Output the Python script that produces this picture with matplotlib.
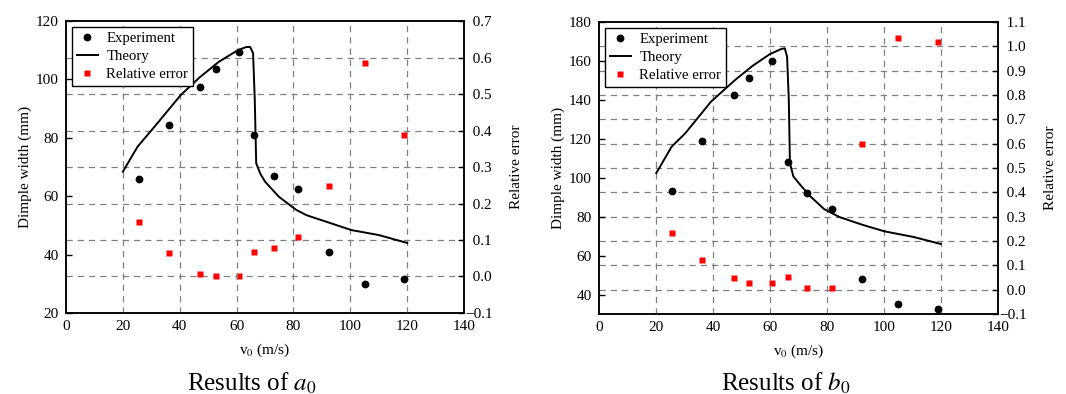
import numpy as np
import matplotlib.pyplot as plt

plt.rcParams['font.family'] = ['Liberation Serif', 'DejaVu Serif']
plt.rcParams['mathtext.fontset'] = 'stix'

# Impact velocity of each test (m/s)
v_exp = [25.7, 36.2, 47.3, 52.7, 60.7, 66.3, 73.1, 81.7, 92.4, 105.0, 119.0]

# Dimple width a0: measured, relative error, theoretical curve
a0_exp = [65.9, 84.4, 97.4, 103.5, 109.4, 80.9, 66.9, 62.4, 40.8, 29.8, 31.7]
a0_err = [0.150, 0.065, 0.008, 0.002, 0.002, 0.066, 0.079, 0.109, 0.248, 0.585, 0.389]
a0_v_th = [20.0, 25.2, 31.3, 40.4, 47.0, 53.7, 60.4, 63.4, 64.8, 65.8, 66.4, 66.9,
           68.3, 70.0, 74.9, 81.0, 84.6, 100.4, 110.0, 120.0]
a0_th = [68.4, 77.0, 84.0, 94.7, 100.7, 106.0, 110.0, 111.1, 111.1, 109.0, 93.0, 71.3,
         67.8, 65.0, 59.8, 55.3, 53.5, 48.4, 46.7, 44.0]

# Dimple width b0: measured, relative error, theoretical curve
b0_exp = [93.0, 119.0, 142.4, 151.5, 160.0, 107.9, 92.0, 83.9, 47.9, 34.9, 32.8]
b0_err = [0.234, 0.120, 0.046, 0.026, 0.029, 0.051, 0.005, 0.005, 0.598, 1.034, 1.019]
b0_v_th = [20.1, 25.5, 30.3, 39.3, 47.8, 53.8, 59.8, 64.0, 65.2, 66.0, 66.6, 67.0,
           68.2, 70.6, 74.2, 79.0, 84.4, 92.3, 100.1, 110.3, 119.9]
b0_th = [102.4, 116.0, 122.9, 139.1, 150.3, 157.4, 163.4, 166.2, 166.5, 162.2, 140.0, 107.5,
         100.7, 96.4, 90.4, 83.9, 79.8, 75.9, 72.5, 69.6, 66.0]

panels = [
    dict(rect=[0.0619, 0.2056, 0.3734, 0.741], exp=a0_exp, err=a0_err, vth=a0_v_th, th=a0_th,
         ylim=(20, 120), yticks=np.arange(20, 121, 20), rlim=(-0.1, 0.7),
         rticks=np.round(np.arange(-0.1, 0.71, 0.1), 1), title='Results of $\\mathit{a}_0$', tx=0.236),
    dict(rect=[0.5619, 0.2030, 0.3743, 0.741], exp=b0_exp, err=b0_err, vth=b0_v_th, th=b0_th,
         ylim=(30, 180), yticks=np.arange(40, 181, 20), rlim=(-0.1, 1.1),
         rticks=np.round(np.arange(-0.1, 1.11, 0.1), 1), title='Results of $\\mathit{b}_0$', tx=0.737),
]


def err_label(r):
    # figure space in front of positive values keeps the digits lined up with the minus sign
    return f'\u2212{abs(r):.1f}' if r < 0 else f'\u2007{r:.1f}'


fig = plt.figure(figsize=(10.66, 3.94), dpi=100)

for p in panels:
    ax = fig.add_axes(p['rect'])
    ax2 = ax.twinx()

    # grid: vertical lines at the velocity ticks, horizontal lines at the error ticks
    for x in range(20, 121, 20):
        ax.axvline(x, color='#808080', ls=(0, (5, 4)), lw=0.9, zorder=0)
    for r in p['rticks'][1:]:
        if r < p['rlim'][1] - 1e-6:
            ax2.axhline(r, color='#808080', ls=(0, (5, 4)), lw=0.9, zorder=0)

    h1, = ax.plot(v_exp, p['exp'], 'o', color='black', ms=4.6, label='Experiment', zorder=3)
    h2, = ax.plot(p['vth'], p['th'], '-', color='black', lw=1.4, label='Theory', zorder=3)
    h3, = ax2.plot(v_exp, p['err'], 's', color='#ff0000', ms=3.9, mec='none',
                   label='Relative error', zorder=3)

    ax.set_xlim(0, 140)
    ax.set_xticks(range(0, 141, 20))
    ax.set_ylim(*p['ylim'])
    ax.set_yticks(p['yticks'])
    ax2.set_ylim(*p['rlim'])
    ax2.set_yticks(p['rticks'])
    ax2.set_yticklabels([err_label(r) for r in p['rticks']])

    for a in (ax, ax2):
        a.tick_params(direction='in', length=4, width=1, labelsize=11)
        for s in a.spines.values():
            s.set_linewidth(1.1)
    ax.tick_params(axis='x', length=0, pad=5)
    ax.tick_params(axis='y', pad=5)
    ax2.tick_params(axis='y', pad=1)

    ax.set_xlabel('v$_0$ (m/s)', fontsize=11, labelpad=6)
    ax.set_ylabel('Dimple width (mm)', fontsize=11, labelpad=3)
    ax2.set_ylabel('Relative error', fontsize=11, labelpad=12)

    leg = ax.legend(handles=[h1, h2, h3], loc='upper left', fontsize=10.6, frameon=True,
                    fancybox=False, edgecolor='black', framealpha=1, borderpad=0.35,
                    handlelength=1.4, handletextpad=0.6, labelspacing=0.3,
                    borderaxespad=0.4)
    leg.get_frame().set_linewidth(1.0)
    leg.set_zorder(5)
    ax.set_zorder(ax2.get_zorder() + 1)
    ax.patch.set_visible(False)

    fig.text(p['tx'], 0.028, p['title'], fontsize=18, ha='center', va='center')

fig.savefig('out.png', dpi=100)
